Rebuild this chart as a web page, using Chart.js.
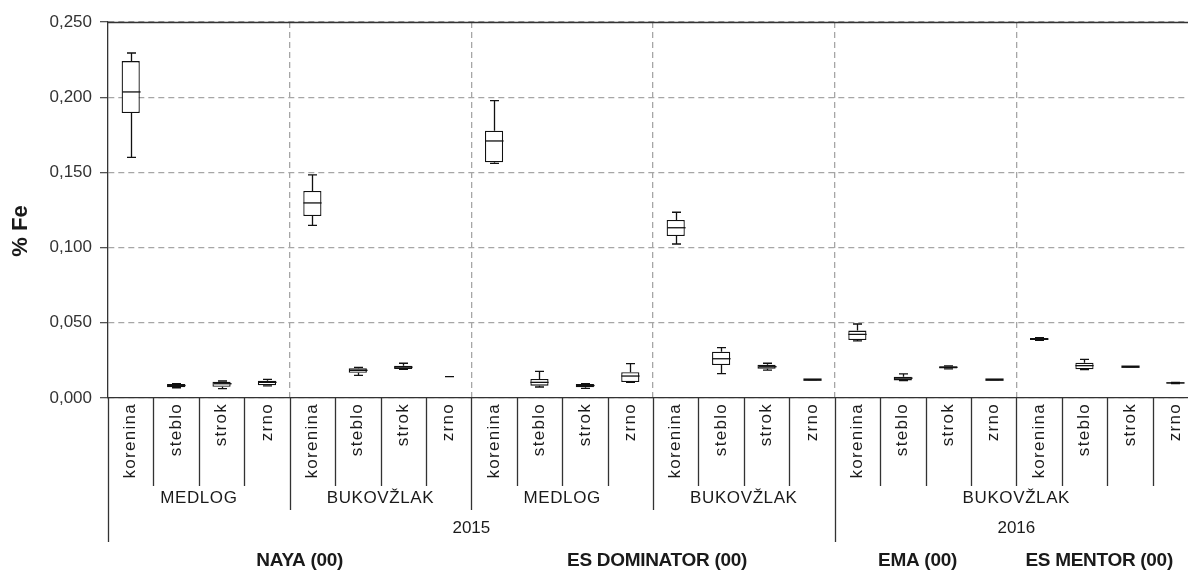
<!DOCTYPE html>
<html lang="sl">
<head>
    <meta charset="UTF-8">
    <title>% Fe</title>
    <script src="https://cdn.jsdelivr.net/npm/chart.js"></script>
    <style>
        html, body { margin: 0; padding: 0; overflow: hidden; background: #fff; }
        .chart-container { position: relative; width: 1200px; height: 571px; }
    </style>
</head>
<body>
    <div class="chart-container">
        <canvas id="feChart"></canvas>
    </div>

    <script>
    // Kategorije (del rastline) in skupine
    const categories = [
        'korenina', 'steblo', 'strok', 'zrno',
        'korenina', 'steblo', 'strok', 'zrno',
        'korenina', 'steblo', 'strok', 'zrno',
        'korenina', 'steblo', 'strok', 'zrno',
        'korenina', 'steblo', 'strok', 'zrno',
        'korenina', 'steblo', 'strok', 'zrno'
    ];
    const locations = ['MEDLOG', 'BUKOVŽLAK', 'MEDLOG', 'BUKOVŽLAK', 'BUKOVŽLAK'];
    const locationSpans = [4, 4, 4, 4, 8];
    const years = ['2015', '2016'];
    const yearSpans = [16, 8];
    const cultivars = ['NAYA (00)', 'ES DOMINATOR (00)', 'EMA (00)', 'ES MENTOR (00)'];
    const cultivarSpans = [8, 8, 4, 4];

    // Okvirji z ročaji (min, Q1, mediana, Q3, max)
    const minVals    = [0.1600, 0.0068, 0.0062, 0.0080, 0.1148, 0.0151, 0.0190, 0.0142,
                        0.1560, 0.0073, 0.0064, 0.0104, 0.1024, 0.0162, 0.0186, 0.0122,
                        0.0380, 0.0115, 0.0193, 0.0122, 0.0384, 0.0189, 0.0208, 0.0096];
    const q1Vals     = [0.1895, 0.0071, 0.0075, 0.0084, 0.1210, 0.0168, 0.0193, null,
                        0.1567, 0.0082, 0.0071, 0.0106, 0.1077, 0.0219, 0.0195, 0.0122,
                        0.0386, 0.0117, 0.0196, 0.0122, 0.0386, 0.0191, 0.0208, 0.0096];
    const medianVals = [0.2035, 0.0083, 0.0095, 0.0104, 0.1297, 0.0184, 0.0205, null,
                        0.1709, 0.0104, 0.0083, 0.0146, 0.1132, 0.0261, 0.0208, 0.0122,
                        0.0423, 0.0132, 0.0204, 0.0122, 0.0392, 0.0215, 0.0208, 0.0100];
    const q3Vals     = [0.2240, 0.0093, 0.0108, 0.0115, 0.1376, 0.0197, 0.0215, null,
                        0.1777, 0.0126, 0.0093, 0.0171, 0.1184, 0.0308, 0.0221, 0.0122,
                        0.0448, 0.0142, 0.0211, 0.0122, 0.0399, 0.0235, 0.0208, 0.0104];
    const maxVals    = [0.2294, 0.0095, 0.0113, 0.0124, 0.1483, 0.0204, 0.0231, 0.0142,
                        0.1977, 0.0177, 0.0095, 0.0228, 0.1235, 0.0335, 0.0231, 0.0122,
                        0.0492, 0.0160, 0.0214, 0.0122, 0.0401, 0.0257, 0.0208, 0.0104];

    const yTicks = [0, 0.05, 0.10, 0.15, 0.20, 0.25];

    const lineColor = '#111';
    const gridColor = '#a6a6a6';
    const fontFamily = '"Liberation Sans", Arial, sans-serif';

    // Ročaji, mediane in oznake pod osjo
    const boxPlotPlugin = {
        id: 'boxPlot',
        afterDatasetsDraw(chart) {
            const { ctx, scales: { x, y } } = chart;
            const catW = x.getPixelForValue(1) - x.getPixelForValue(0);
            const halfBox = catW * 0.4 / 2;
            const halfCap = 4.5;
            ctx.save();
            ctx.strokeStyle = lineColor;
            categories.forEach((c, i) => {
                const cx = Math.round(x.getPixelForValue(i)) + 0.5;
                const top = q3Vals[i] != null ? q3Vals[i] : maxVals[i];
                const bot = q1Vals[i] != null ? q1Vals[i] : minVals[i];
                ctx.lineWidth = 1.3;
                ctx.beginPath();
                if (maxVals[i] != null) {
                    ctx.moveTo(cx, y.getPixelForValue(top));
                    ctx.lineTo(cx, y.getPixelForValue(maxVals[i]));
                    ctx.moveTo(cx - halfCap, y.getPixelForValue(maxVals[i]));
                    ctx.lineTo(cx + halfCap, y.getPixelForValue(maxVals[i]));
                }
                if (minVals[i] != null) {
                    ctx.moveTo(cx, y.getPixelForValue(bot));
                    ctx.lineTo(cx, y.getPixelForValue(minVals[i]));
                    ctx.moveTo(cx - halfCap, y.getPixelForValue(minVals[i]));
                    ctx.lineTo(cx + halfCap, y.getPixelForValue(minVals[i]));
                }
                ctx.stroke();
                if (medianVals[i] != null) {
                    // prazen okvir (Q1 = Q3) se nariše kot debelejša črta
                    const flat = Math.abs(q3Vals[i] - q1Vals[i]) < 1e-9;
                    ctx.lineWidth = flat ? 2.4 : 1.3;
                    ctx.beginPath();
                    ctx.moveTo(cx - halfBox, y.getPixelForValue(medianVals[i]));
                    ctx.lineTo(cx + halfBox, y.getPixelForValue(medianVals[i]));
                    ctx.stroke();
                }
            });
            ctx.restore();
        },
        afterDraw(chart) {
            const { ctx, chartArea, scales: { x, y } } = chart;
            const bottom = chartArea.bottom;
            const edge = v => Math.round(x.getPixelForValue(v - 0.5)) + 0.5;
            ctx.save();

            // zgornji rob
            ctx.strokeStyle = '#333';
            ctx.lineWidth = 1.3;
            ctx.beginPath();
            ctx.moveTo(chartArea.left, chartArea.top + 0.5);
            ctx.lineTo(chartArea.right, chartArea.top + 0.5);
            ctx.stroke();

            // ločnice pod osjo x
            const stops = new Set();
            let acc = 0;
            locationSpans.forEach(s => { acc += s; stops.add(acc); });
            const yearStops = new Set();
            acc = 0;
            yearSpans.forEach(s => { acc += s; yearStops.add(acc); });
            ctx.beginPath();
            for (let i = 0; i < categories.length; i++) {
                let len = 88;
                if (i === 0 || yearStops.has(i)) len = 144;
                else if (stops.has(i)) len = 112;
                ctx.moveTo(edge(i), bottom);
                ctx.lineTo(edge(i), bottom + len);
            }
            ctx.stroke();

            ctx.fillStyle = '#1a1a1a';
            // del rastline (navpično)
            ctx.font = '17px ' + fontFamily;
            ctx.letterSpacing = '1.3px';
            ctx.textAlign = 'right';
            ctx.textBaseline = 'middle';
            categories.forEach((c, i) => {
                ctx.save();
                ctx.translate(x.getPixelForValue(i), bottom + 5);
                ctx.rotate(-Math.PI / 2);
                ctx.fillText(c, 0, 0);
                ctx.restore();
            });

            // lokacija, leto, sorta
            ctx.textAlign = 'center';
            const spanRow = (labels, spans, yPos, shifts) => {
                let start = 0;
                labels.forEach((lab, k) => {
                    const mid = x.getPixelForValue(start + spans[k] / 2 - 0.5);
                    ctx.fillText(lab, mid + (shifts ? shifts[k] : 0), yPos);
                    start += spans[k];
                });
            };
            ctx.letterSpacing = '0.6px';
            spanRow(locations, locationSpans, bottom + 100);
            ctx.letterSpacing = '0px';
            spanRow(years, yearSpans, bottom + 130);
            ctx.font = 'bold 19px ' + fontFamily;
            ctx.letterSpacing = '-0.3px';
            spanRow(cultivars, cultivarSpans, bottom + 163, [10, 4, -8, -8]);
            ctx.letterSpacing = '0px';

            // naslov osi y
            ctx.font = 'bold 22px ' + fontFamily;
            ctx.translate(21, 231);
            ctx.rotate(-Math.PI / 2);
            ctx.fillText('% Fe', 0, 0);
            ctx.restore();
        }
    };

    document.addEventListener('DOMContentLoaded', function() {
        const feCtx = document.getElementById('feChart');
        new Chart(feCtx, {
            type: 'bar',
            data: {
                labels: categories,
                datasets: [{
                    data: q1Vals.map((q, i) => q == null ? null : [q, q3Vals[i]]),
                    backgroundColor: '#fff',
                    borderColor: lineColor,
                    borderWidth: 1.3,
                    borderSkipped: false,
                    barPercentage: 0.4,
                    categoryPercentage: 1
                }]
            },
            options: {
                responsive: true,
                maintainAspectRatio: false,
                animation: false,
                devicePixelRatio: 1,
                layout: { padding: { top: 22, right: 2, left: 0, bottom: 0 } },
                plugins: {
                    legend: { display: false },
                    tooltip: { enabled: false }
                },
                scales: {
                    x: {
                        afterFit: s => { s.height = 173; },
                        ticks: { display: false },
                        grid: {
                            drawTicks: false,
                            lineWidth: 1.3,
                            color: c => (c.index > 0 && c.index % 4 === 0) ? gridColor : 'rgba(0,0,0,0)'
                        },
                        border: { display: true, color: '#333', width: 1.3, dash: [6, 4] }
                    },
                    y: {
                        min: yTicks[0],
                        max: yTicks[yTicks.length - 1],
                        afterFit: s => { s.width = 108; },
                        afterBuildTicks: s => { s.ticks = yTicks.map(v => ({ value: v })); },
                        ticks: {
                            padding: 8,
                            color: '#333',
                            font: { family: fontFamily, size: 17 },
                            callback: v => v.toFixed(3).replace('.', ',')
                        },
                        grid: {
                            color: gridColor,
                            lineWidth: 1.3,
                            tickLength: 8,
                            tickColor: '#555'
                        },
                        border: { display: true, color: '#333', width: 1.3, dash: [6, 4] }
                    }
                }
            },
            plugins: [boxPlotPlugin]
        });
    });
    </script>
</body>
</html>
